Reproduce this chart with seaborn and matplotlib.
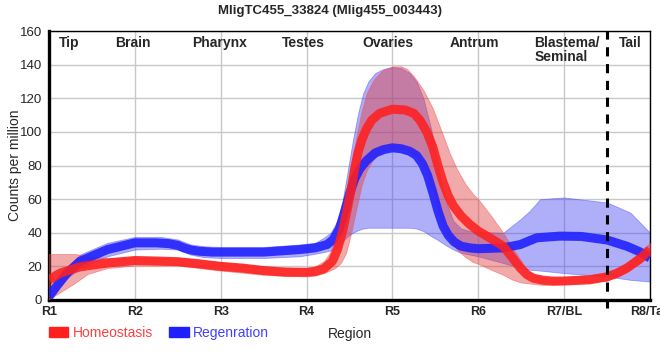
import numpy as np
import pandas as pd
import matplotlib
matplotlib.use("Agg")
import matplotlib.pyplot as plt
import seaborn as sns
from matplotlib.patches import Patch

# ---------------- data (x in region units, R1 = 0) ----------------
regions = ["R1", "R2", "R3", "R4", "R5", "R6", "R7/BL", "R8/Tail"]
tissues = ["Tip", "Brain", "Pharynx", "Testes", "Ovaries", "Antrum", "Blastema/\nSeminal", "Tail"]
tissue_pos = [0.23, 0.98, 1.99, 2.96, 3.95, 4.96, 5.65, 6.77]
tissue_ha = ["center", "center", "center", "center", "center", "center", "left", "center"]

homeo_x = [0, 0.13, 0.36, 0.68, 1.0, 1.25, 1.5, 1.75, 2.0, 2.25, 2.5, 2.75, 3.0, 3.1, 3.2,
           3.3, 3.36, 3.42, 3.47, 3.52, 3.56, 3.6, 3.65, 3.7, 3.76, 3.85, 4.0, 4.15, 4.25,
           4.32, 4.4, 4.47, 4.53, 4.59, 4.65, 4.71, 4.8, 4.9, 5.0, 5.15, 5.29, 5.4, 5.49,
           5.57, 5.64, 5.75, 5.87, 6.0, 6.3, 6.5, 6.62, 6.73, 6.87, 7.0]
homeo_y = [12, 16, 19.7, 22, 23.5, 23.2, 22.8, 21.5, 20, 19, 17.5, 16.5, 16.5, 17, 18.5,
           23, 30, 41, 53, 66, 78, 88, 96, 102, 107, 111, 113.5, 113, 111,
           107, 100, 91, 80, 70, 62, 56, 50, 45, 41, 36.5, 32, 25, 19,
           15, 13, 11.8, 11.2, 11.3, 12, 13.8, 16, 19, 24, 30]

homeo_band_x = [0, 0.3, 0.45, 0.68, 1.0, 1.5, 1.75, 2.0, 2.5, 3.0, 3.1, 3.2, 3.27, 3.33,
                3.4, 3.46, 3.52, 3.58, 3.64, 3.7, 3.78, 3.88, 4.0, 4.1, 4.17, 4.25, 4.36,
                4.47, 4.53, 4.59, 4.67, 4.75, 4.85, 4.94, 5.0, 5.15, 5.29, 5.4, 5.49, 5.57,
                5.65, 5.75, 6.0, 6.5, 6.73, 7.0]
homeo_hi = [27.4, 27.4, 26, 25, 25.5, 25, 24, 22.5, 20, 19, 20, 23, 28, 36,
            47, 62, 80, 97, 112, 123, 131, 136.5, 139, 139, 137.5, 133, 125,
            114, 106, 98, 87, 78, 69, 63, 60, 50, 40, 31, 24, 18,
            15, 13.5, 13.5, 16, 22, 34]
homeo_lo = [0.5, 10, 15.5, 19, 20.5, 20.5, 19, 17.5, 15, 14, 14.5, 16, 17.5, 19,
            22, 28, 40, 54, 68, 77, 84, 88.5, 90, 90, 89, 87, 80,
            66, 53, 44, 36, 30, 25.5, 22.5, 21.5, 18, 15, 12, 10.5, 10,
            9.5, 9, 9.5, 11.5, 16.5, 26]

regen_x = [0, 0.1, 0.21, 0.36, 0.68, 1.0, 1.25, 1.4, 1.5, 1.57, 1.65, 1.75, 1.9, 2.5,
           2.92, 3.1, 3.24, 3.31, 3.38, 3.44, 3.5, 3.56, 3.62, 3.7, 3.8, 3.9, 4.0, 4.1,
           4.2, 4.28, 4.35, 4.41, 4.47, 4.53, 4.59, 4.65, 4.72, 4.8, 4.9, 5.0, 5.29, 5.49,
           5.68, 5.95, 6.2, 6.5, 6.73, 6.88, 7.0]
regen_y = [2, 9, 16, 23, 30, 34, 34, 33.5, 32.5, 31, 29.8, 29, 28.5, 28.5,
           30, 31, 33, 36, 42, 52, 63, 72, 78, 83, 87.5, 89.5, 90.5, 90,
           88.5, 86, 81, 74, 64, 53, 44, 38.5, 34.5, 32, 31, 30.5, 31, 33,
           37, 38, 37.8, 35.7, 32, 28.7, 25]

regen_band_x = [0, 0.1, 0.21, 0.36, 0.68, 1.0, 1.3, 1.5, 1.65, 1.8, 2.0, 2.5, 2.92, 3.1,
                3.2, 3.28, 3.36, 3.42, 3.48, 3.54, 3.6, 3.66, 3.72, 3.8, 3.9, 4.0, 4.1,
                4.2, 4.28, 4.36, 4.45, 4.52, 4.58, 4.64, 4.71, 4.8, 4.9, 5.0, 5.29, 5.49,
                5.6, 5.72, 6.0, 6.5, 6.77, 7.0]
regen_hi = [3, 11, 19, 27, 34, 37.5, 37.5, 36, 33, 32, 31.5, 31.5, 33, 34,
            37, 40, 47, 59, 77, 95, 111, 123, 130, 135, 137.5, 138.5, 138,
            135, 130, 120, 102, 84, 68, 56, 47, 42.5, 41, 40.5, 40, 48,
            53, 60, 61, 58, 52, 40]
regen_lo = [0, 6, 13, 19, 26, 30, 30.5, 30, 27, 25.5, 25, 25, 26, 27.5,
            28.5, 29.5, 31, 35, 38, 40, 41.5, 42.5, 43, 43, 43, 43, 43,
            43, 42.5, 41, 38, 36, 34, 32, 30, 28, 27, 26, 22, 19,
            18, 17.5, 16, 14, 12, 11]

# ---------------- styling ----------------
sns.set_theme(style="white")
plt.rcParams["font.family"] = ["Liberation Sans", "DejaVu Sans"]

RED = "#ff1f1f"
BLUE = "#1f1fff"
RED_BAND = (0.88, 0.25, 0.25, 0.45)
BLUE_BAND = (0.25, 0.25, 0.95, 0.42)

fig = plt.figure(figsize=(6.6, 3.6), dpi=100)
ax = fig.add_axes([49 / 660, 1 - 300 / 360, (650 - 49) / 660, (300 - 31) / 360])

ax.fill_between(regen_band_x, regen_lo, regen_hi, color=BLUE_BAND, lw=0.6,
                edgecolor=(0.3, 0.3, 1.0, 0.5), zorder=2)
ax.fill_between(homeo_band_x, homeo_lo, homeo_hi, color=RED_BAND, lw=0.6,
                edgecolor=(1.0, 0.3, 0.3, 0.5), zorder=3)

df_r = pd.DataFrame({"x": regen_x, "y": regen_y})
df_h = pd.DataFrame({"x": homeo_x, "y": homeo_y})
sns.lineplot(data=df_r, x="x", y="y", ax=ax, color=BLUE, lw=6.5, alpha=0.88,
             solid_capstyle="butt", solid_joinstyle="round", zorder=4)
sns.lineplot(data=df_h, x="x", y="y", ax=ax, color=RED, lw=6.5, alpha=0.88,
             solid_capstyle="butt", solid_joinstyle="round", zorder=5)

ax.axvline(6.5, ymin=-0.03, ymax=1, color="black", lw=2.2, ls=(0, (3, 2.5)),
           zorder=6, clip_on=False)

ax.set_xlim(0, 7)
ax.set_ylim(0, 160)
ax.set_xticks(range(len(regions)))
ax.set_xticklabels(regions, fontsize=9, fontweight="bold")
ax.set_yticks(range(0, 161, 20))
ax.tick_params(axis="y", labelsize=9.5, length=3, width=1, color="black", pad=2)
ax.tick_params(axis="x", length=0, pad=4)
ax.grid(True, color="#c8c8c8", lw=1)
ax.set_axisbelow(True)

for s in ["left", "bottom"]:
    ax.spines[s].set_linewidth(2.4)
    ax.spines[s].set_color("black")
for s in ["top", "right"]:
    ax.spines[s].set_linewidth(1.0)
    ax.spines[s].set_color("black")

ax.set_xlabel("Region", fontsize=10)
ax.xaxis.set_label_coords((350 - 49) / 601, -0.1)
ax.set_ylabel("Counts per million", fontsize=10)
ax.yaxis.set_label_coords(-0.045, 0.5)

for t, p, h in zip(tissues, tissue_pos, tissue_ha):
    ax.text(p, 157, t, ha=h, va="top", fontsize=10, fontweight="bold",
            linespacing=1.0, zorder=7)

fig.suptitle("MligTC455_33824 (Mlig455_003443)", fontsize=9.5, fontweight="bold",
             x=330 / 660, y=0.985, va="top")

handles = [Patch(color=RED, label="Homeostasis"), Patch(color=BLUE, label="Regenration")]
leg = fig.legend(handles=handles, loc="lower left", bbox_to_anchor=(0.055, 0.022), ncol=2,
                 frameon=False, fontsize=10, handlelength=1.4, handleheight=0.7,
                 handletextpad=0.3, columnspacing=1.2)
for txt, c in zip(leg.get_texts(), ["#ff4040", "#4040ff"]):
    txt.set_color(c)

fig.savefig("out.png", dpi=100)
